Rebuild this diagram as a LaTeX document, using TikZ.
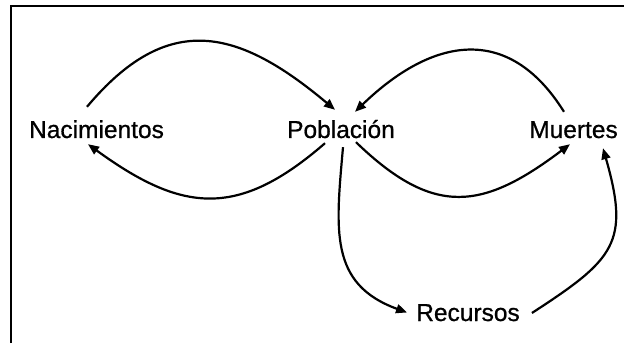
\documentclass[tikz,border=0pt]{standalone}
\usepackage{fontspec}
\setmainfont{Liberation Sans}[FakeBold=0.8]
\usetikzlibrary{positioning,arrows.meta}

\begin{document}
\begin{tikzpicture}[x=1pt, y=1pt, node distance={232.5pt},
    main/.style = {inner sep=0pt, text height=17pt, text depth=0pt, font=\fontsize{24.5}{28}\selectfont},
    arr/.style = {line width=2.2pt, -{Triangle[length=11pt,width=9pt]}}]
            \useasboundingbox (0,0) rectangle (624,343);
            \draw[line width=2.2pt] (11,0) -- (11,337) -- (624,337);
            \node[main] (2) at (341,213.5) {Población};
            \node[main] (1) [left of=2, xshift=-12pt] {Nacimientos};
            \node[main] (3) [right of=2] {Muertes};
            \node[main] (4) [below of=2, xshift=127pt, yshift=49.5pt] {Recursos};
            \draw[arr] ([shift={(-9.5,14)}]1.north) to[out=50, in=140, looseness=1.3] ([shift={(-6,11)}]2.north);
            \draw[arr] ([shift={(-16,-5)}]2.south) to[out=221, in=-36, looseness=1.25] ([shift={(-8.5,-6)}]1.south);
            \draw[arr] ([shift={(-9.5,9)}]3.north) to[out=122, in=44, looseness=1.3] ([shift={(14,9)}]2.north);
            \draw[arr] ([shift={(15,-4)}]2.south) to[out=-44, in=-143, looseness=1.3] ([shift={(-3.5,-6)}]3.south);
            \draw[arr] ([shift={(2,-9)}]2.south) to[out=-95, in=160, looseness=1.2] ([shift={(-9,0)}]4.west);
            \draw[arr] ([shift={(12,-0.5)}]4.east) to[out=33, in=-74, looseness=1.4] ([shift={(29.5,-10)}]3.south);
        \end{tikzpicture}
\end{document}
